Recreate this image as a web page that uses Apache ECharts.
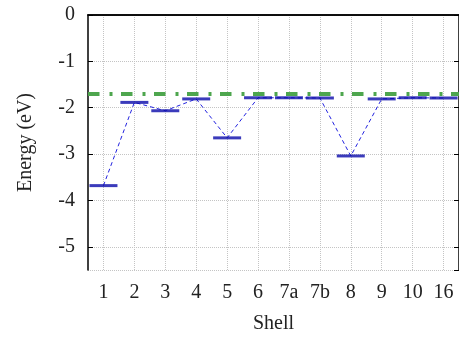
<!DOCTYPE html>
<html>
<head>
<meta charset="utf-8">
<script src="https://cdn.jsdelivr.net/npm/echarts@6/dist/echarts.min.js"></script>
<style>
  html, body { margin: 0; padding: 0; background: #fff; }
  #chart { width: 459px; height: 339px; }
</style>
</head>
<body>
<div id="chart"></div>
<script>
// Shell labels along the x axis
const shells = ['1', '2', '3', '4', '5', '6', '7a', '7b', '8', '9', '10', '16'];
// Level energy of each shell (eV)
const energies = [-3.68, -1.885, -2.065, -1.81, -2.65, -1.785, -1.785, -1.79, -3.04, -1.81, -1.785, -1.79];
// Reference energy drawn as the dash-dot line (eV)
const referenceEnergy = [-1.70];
// Energy axis range (eV)
const energyRange = [-5.5, 0];

const FONT = 'Liberation Serif';
const gridLine = { show: true, lineStyle: { color: '#c4c4c4', type: [1, 1], width: 1 } };

const chart = echarts.init(document.getElementById('chart'), null, { renderer: 'canvas' });

chart.setOption({
  animation: false,
  backgroundColor: '#ffffff',
  grid: { left: 88, top: 15, width: 373, height: 255, containLabel: false },
  xAxis: [
    {
      type: 'category',
      data: shells,
      position: 'bottom',
      boundaryGap: true,
      name: 'Shell',
      nameLocation: 'middle',
      nameGap: 44,
      nameTextStyle: { fontFamily: FONT, fontSize: 20, color: '#222' },
      axisLine: { lineStyle: { color: '#000', width: 1.5 } },
      axisTick: { inside: true, alignWithLabel: true, length: 4, lineStyle: { color: '#000' } },
      axisLabel: { fontFamily: FONT, fontSize: 20, color: '#222', margin: 13, interval: 0 },
      splitLine: Object.assign({ alignWithLabel: true }, gridLine)
    },
    {
      type: 'category',
      data: shells,
      position: 'top',
      boundaryGap: true,
      axisLine: { lineStyle: { color: '#000', width: 1.5 } },
      axisTick: { inside: true, alignWithLabel: true, length: 4, lineStyle: { color: '#000' } },
      axisLabel: { show: false },
      splitLine: { show: false }
    }
  ],
  yAxis: [
    {
      type: 'value',
      min: energyRange[0],
      max: energyRange[1],
      splitNumber: 5,
      name: 'Energy (eV)',
      nameLocation: 'middle',
      nameGap: 52,
      nameTextStyle: { fontFamily: FONT, fontSize: 20, color: '#222' },
      axisLine: { show: true, lineStyle: { color: '#000', width: 1.5 } },
      axisTick: { show: true, inside: true, length: 5, lineStyle: { color: '#000' } },
      axisLabel: {
        fontFamily: FONT, fontSize: 20, color: '#222', margin: 13,
        showMinLabel: false,
        formatter: v => (Number.isInteger(v) ? String(v) : '')
      },
      splitLine: gridLine
    },
    {
      type: 'value',
      min: energyRange[0],
      max: energyRange[1],
      splitNumber: 5,
      position: 'right',
      axisLine: { show: true, lineStyle: { color: '#000', width: 1.5 } },
      axisTick: { show: true, inside: true, length: 5, lineStyle: { color: '#000' } },
      axisLabel: { show: false },
      splitLine: { show: false }
    }
  ],
  series: [
    {
      // dashed guide joining consecutive shell levels
      type: 'line',
      data: energies,
      symbol: 'none',
      lineStyle: { color: '#2323e0', width: 1, type: [4, 3] },
      z: 2,
      markLine: {
        silent: true,
        symbol: 'none',
        label: { show: false },
        lineStyle: { color: '#4ea64e', width: 4, type: [11.5, 10, 3, 8.5] },
        data: referenceEnergy.map(v => ({ yAxis: v }))
      }
    },
    {
      // level marks for each shell
      type: 'scatter',
      data: energies,
      symbol: 'rect',
      symbolSize: [28, 3],
      itemStyle: { color: '#0a0aaa' },
      z: 3
    }
  ]
});
</script>
</body>
</html>
